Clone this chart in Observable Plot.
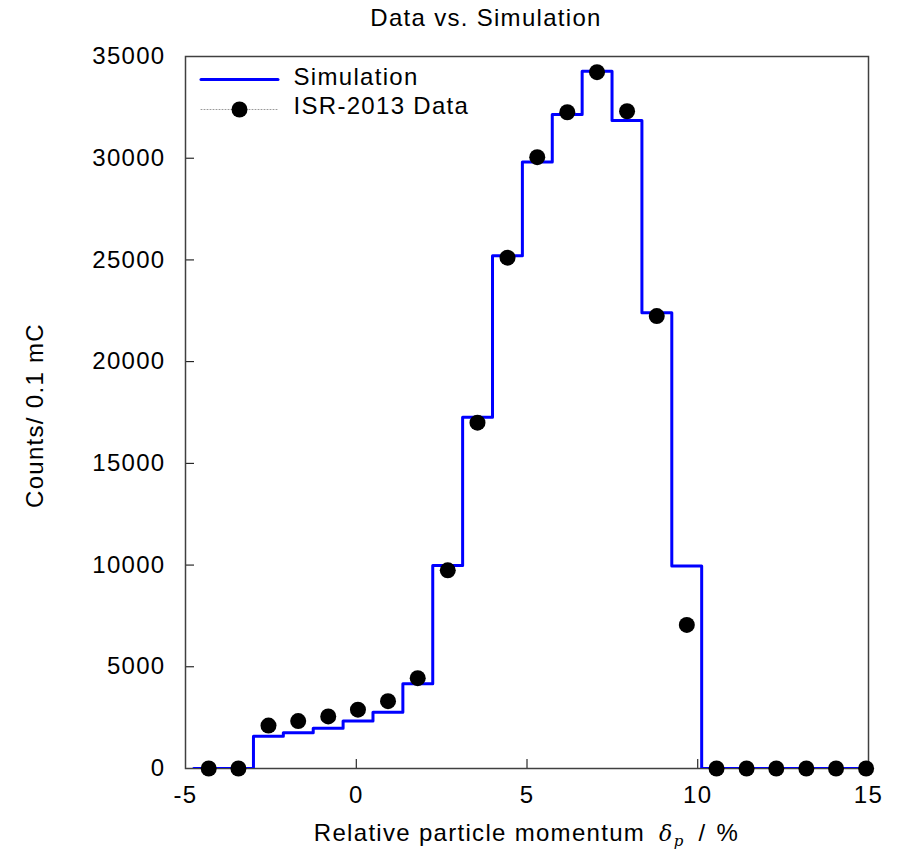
<!DOCTYPE html>
<html>
<head>
<meta charset="utf-8">
<script src="https://cdn.jsdelivr.net/npm/d3@7"></script>
<script src="https://cdn.jsdelivr.net/npm/@observablehq/plot@0.6"></script>
<style>
  body { margin: 0; background: #fff; }
</style>
</head>
<body>
<div id="chart"></div>
<script>
// Momentum bins (bin centres, %), simulated and measured counts per 0.1 mC
const binCenters = [-4.32, -3.45, -2.57, -1.70, -0.82, 0.05, 0.93, 1.80, 2.68, 3.55, 4.43, 5.30,
                    6.18, 7.05, 7.93, 8.80, 9.68, 10.55, 11.43, 12.30, 13.18, 14.05, 14.93];
const simCounts  = [0, 0, 1590, 1760, 1980, 2330, 2770, 4160, 9980, 17270, 25200, 29810,
                    32150, 34280, 31860, 22400, 9950, 0, 0, 0, 0, 0, 0];
const dataCounts = [0, 0, 2110, 2330, 2560, 2890, 3310, 4440, 9740, 17000, 25110, 30050,
                    32260, 34230, 32310, 22240, 7060, 0, 0, 0, 0, 0, 0];
const xTicks = [-5, 0, 5, 10, 15];
const yTicks = [0, 5000, 10000, 15000, 20000, 25000, 30000, 35000];
const seriesNames = ["Simulation", "ISR-2013 Data"];

// Histogram outline: each bin spans half-way to its neighbours
const simSteps = [];
binCenters.forEach((c, i) => {
  const prev = i > 0 ? binCenters[i - 1] : c - (binCenters[1] - binCenters[0]);
  const next = i < binCenters.length - 1 ? binCenters[i + 1] : c + (c - binCenters[i - 1]);
  simSteps.push({x: (prev + c) / 2, y: simCounts[i]});
  simSteps.push({x: (c + next) / 2, y: simCounts[i]});
});
const points = binCenters.map((c, i) => ({x: c, y: dataCounts[i]}));

// Short horizontal stroke used as a legend swatch
const hSwatch = {draw(ctx, l) { ctx.moveTo(-l / 2, 0); ctx.lineTo(l / 2, 0); }};

const chart = Plot.plot({
  width: 901,
  height: 852,
  marginLeft: 185,
  marginRight: 33,
  marginTop: 56,
  marginBottom: 84,
  style: {
    fontFamily: "'Liberation Sans', Arial, Helvetica, sans-serif",
    fontSize: "24px",
    letterSpacing: "1.3px",
    background: "#fff",
    color: "#000"
  },
  x: {domain: [-5, 15]},
  y: {domain: [0, 35000]},
  marks: [
    Plot.axisX(xTicks, {tickSize: -9, tickPadding: 26, label: null, tickFormat: d => String(d)}),
    Plot.axisY(yTicks, {tickSize: -9, tickPadding: 29, label: null, tickFormat: d => String(d)}),
    Plot.frame({stroke: "#404040", strokeWidth: 1.5}),
    Plot.line(simSteps, {x: "x", y: "y", stroke: "#0000ff", strokeWidth: 3, clip: true}),
    Plot.dot(points, {x: "x", y: "y", r: 8, fill: "#000"}),

    // legend
    Plot.vector([0], {frameAnchor: "top-left", dx: 54, dy: 23, length: 77, rotate: 0,
                      anchor: "start", shape: hSwatch, stroke: "#0000ff", strokeWidth: 3}),
    Plot.text([seriesNames[0]], {frameAnchor: "top-left", dx: 108, dy: 21,
                                 textAnchor: "start", lineAnchor: "middle"}),
    Plot.vector([0], {frameAnchor: "top-left", dx: 54, dy: 53, length: 77, rotate: 0,
                      anchor: "start", shape: hSwatch, stroke: "#999", strokeWidth: 1,
                      strokeDasharray: "1,2"}),
    Plot.dot([0], {frameAnchor: "top-left", dx: 54, dy: 53, r: 8, fill: "#000"}),
    Plot.text([seriesNames[1]], {frameAnchor: "top-left", dx: 108, dy: 50,
                                 textAnchor: "start", lineAnchor: "middle"}),

    // title and y label
    Plot.text(["Data vs. Simulation"], {frameAnchor: "top", dx: -41, dy: -38, lineAnchor: "middle"}),
    Plot.text(["Counts/ 0.1 mC"], {frameAnchor: "left", rotate: -90, dx: -150, dy: 3,
                                   textAnchor: "middle", lineAnchor: "middle"})
  ]
});

// x label with an italic, subscripted symbol
const xr = chart.scale("x").range;
const yr = chart.scale("y").range;
const xLabel = d3.select(chart).append("text")
  .attr("x", (xr[0] + xr[1]) / 2)
  .attr("y", yr[0] + 73)
  .attr("text-anchor", "middle")
  .attr("fill", "#000");
xLabel.append("tspan").text("Relative particle momentum");
xLabel.append("tspan").attr("dx", 14).attr("font-style", "italic").attr("font-size", 22)
  .attr("font-family", "'DejaVu Serif', serif").text("δ");
xLabel.append("tspan").attr("dy", 5).attr("font-size", 15).attr("font-style", "italic")
  .attr("font-family", "'DejaVu Serif', serif").text("p");
xLabel.append("tspan").attr("dy", -5).attr("dx", 14).text("/");
xLabel.append("tspan").attr("dx", 10).text("%");

document.getElementById("chart").appendChild(chart);
</script>
</body>
</html>
